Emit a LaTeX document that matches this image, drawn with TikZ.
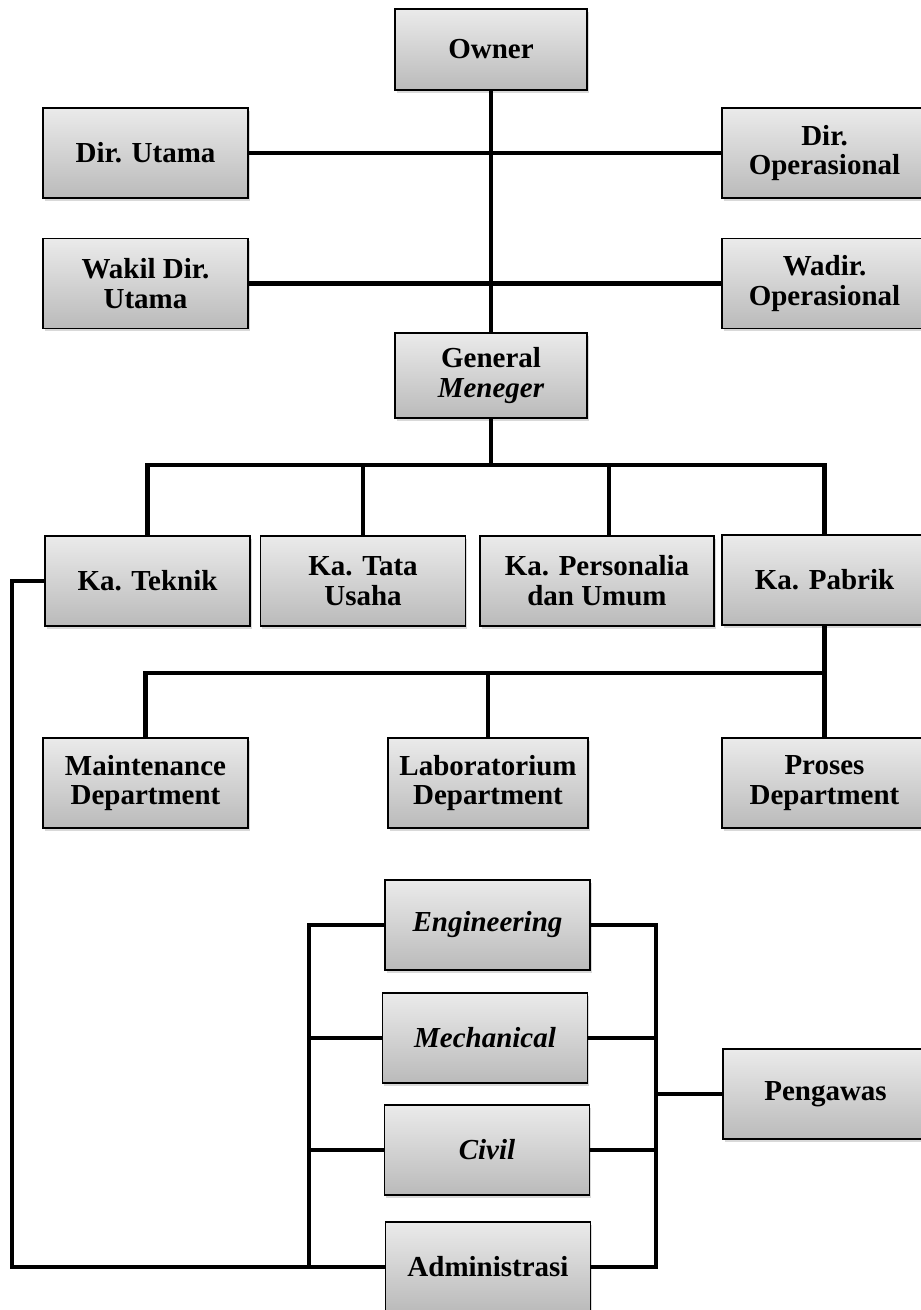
\documentclass[tikz,border=0pt]{standalone}
\usepackage{fontspec}
\setmainfont{Liberation Serif}
\usetikzlibrary{shadows}

\begin{document}
\begin{tikzpicture}[
    x=0.02cm, y=-0.02cm,
    unit/.style={rectangle, draw, line width=0.8pt,
        top color=black!8, bottom color=black!27,
        drop shadow={shadow xshift=1pt, shadow yshift=-1.5pt, opacity=0.3},
        minimum width=4.1cm, minimum height=1.8cm, align=center, inner sep=2pt,
        font=\fontsize{16.5}{17}\selectfont\bfseries},
    sub/.style={unit, font=\fontsize{16.5}{17}\selectfont\bfseries\itshape},
    link/.style={line width=2.8pt}
]
\useasboundingbox (0,0) rectangle (920,1310);

% top level
\node [unit, minimum width=3.84cm, minimum height=1.62cm] (owner) at (491,49.5) {Owner};
\node [unit] (dirut) at (145.5,153) {Dir. Utama};
\node [unit] (dirops) at (824.5,153) {Dir.\\Operasional};
\node [unit] (wadirut) at (145.5,283.5) {Wakil Dir.\\Utama};
\node [unit] (wadirops) at (824.5,283.5) {Wadir.\\Operasional};
\node [unit, minimum width=3.84cm, minimum height=1.7cm] (gm) at (491,375.5) {General\\\textit{Meneger}};

% heads
\node [unit] (kateknik) at (147.5,581) {Ka. Teknik};
\node [unit] (katu) at (363,581) {Ka. Tata\\Usaha};
\node [unit, minimum width=4.68cm] (kapers) at (597,581) {Ka. Personalia\\dan Umum};
\node [unit] (kapabrik) at (824.5,580) {Ka. Pabrik};

% departments
\node [unit] (maint) at (145.5,783) {Maintenance\\Department};
\node [unit, minimum width=4cm] (lab) at (488,783) {Laboratorium\\Department};
\node [unit] (proses) at (824.5,783) {Proses\\Department};

% teknik staff
\node [sub] (eng) at (487.5,925) {Engineering};
\node [sub] (mech) at (485,1038) {Mechanical};
\node [sub] (civil) at (487,1150) {Civil};
\node [unit] (admin) at (488,1267) {Administrasi};
\node [unit] (pengawas) at (825.5,1094) {Pengawas};

\coordinate (gmbus) at (491,465);
\coordinate (pbus) at (824.5,673);
\coordinate (lv) at (309,925);
\coordinate (rv) at (656,925);
\coordinate (far) at (12,581);

\draw [link] (owner) -- (gm);
\draw [link] (dirut) -- (dirops);
\draw [link] (wadirut) -- (wadirops);

\draw [link] (gm) -- (gmbus);
\draw [link] (kateknik.north) |- (gmbus) -| (kapabrik.north);
\draw [link] (katu.north) -- (katu.north |- gmbus);
\draw [link] ([xshift=0.24cm]kapers.north) -- ([xshift=0.24cm]kapers.north |- gmbus);

\draw [link] (kapabrik) -- (proses);
\draw [link] (maint.north) |- (pbus);
\draw [link] (lab.north) -- (lab.north |- pbus);

\draw [link] (eng.west) -- (eng.west -| lv) |- (admin.west);
\draw [link] (eng.east) -- (eng.east -| rv) |- (admin.east);
\foreach \n in {mech, civil} {
    \draw [link] (\n.west) -- (\n.west -| lv);
    \draw [link] (\n.east) -- (\n.east -| rv);
}
\draw [link] (pengawas.west) -- (pengawas.west -| rv);
\draw [link] (kateknik.west) -- (far) |- (admin.west -| lv);
\end{tikzpicture}
\end{document}
